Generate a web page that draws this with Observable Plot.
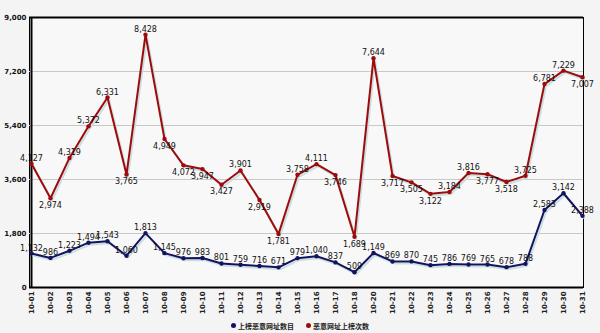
<!DOCTYPE html>
<html>
<head>
<meta charset="utf-8">
<script src="https://cdn.jsdelivr.net/npm/d3@7"></script>
<script src="https://cdn.jsdelivr.net/npm/@observablehq/plot@0.6"></script>
<style>
  html, body { margin: 0; padding: 0; background: #f4f4f4; width: 600px; height: 333px; overflow: hidden; }
  #chart svg { display: block; }
  #legend { height: 15px; display: flex; justify-content: center; align-items: center; gap: 12px;
            font-family: "Noto Sans CJK SC", sans-serif; font-size: 7px; font-weight: bold; color: #222; }
  .item { display: flex; align-items: center; gap: 2px; }
  .dot { width: 5px; height: 5px; border-radius: 50%; display: inline-block; }
</style>
</head>
<body>
<div id="chart"></div>
<div id="legend"></div>
<script>
const dates = ["10-01","10-02","10-03","10-04","10-05","10-06","10-07","10-08","10-09","10-10",
               "10-11","10-12","10-13","10-14","10-15","10-16","10-17","10-18","10-20","10-21",
               "10-22","10-23","10-24","10-25","10-26","10-27","10-28","10-29","10-30","10-31"];
// 恶意网址上榜次数 (red)
const hits = [4127,2974,4319,5372,6331,3765,8428,4949,4072,3947,
              3427,3901,2919,1781,3758,4111,3746,1689,7644,3717,
              3505,3122,3184,3816,3777,3518,3725,6781,7229,7007];
// 上榜恶意网址数目 (blue)
const sites = [1132,986,1223,1494,1543,1060,1813,1145,976,983,
               801,759,716,671,979,1040,837,509,1149,869,
               870,745,786,769,765,678,788,2583,3142,2388];
const yTicks = [0,1800,3600,5400,7200,9000];
const seriesNames = ["上榜恶意网址数目","恶意网址上榜次数"];
const colors = ["#14145e","#9e0b0b"];

const fmt = d3.format(",");
const blue = dates.map((d,i) => ({date:d, value:sites[i]}));
const red = dates.map((d,i) => ({date:d, value:hits[i], above: i===0 || hits[i] >= hits[i-1]}));

const labelFont = {fontSize: 8, fontFamily: "DejaVu Sans, sans-serif", fill: "#111"};

const chart = Plot.plot({
  width: 600,
  height: 318,
  marginLeft: 29,
  marginRight: 17,
  marginTop: 17,
  marginBottom: 31,
  style: {background: "#f4f4f4", fontFamily: "DejaVu Sans, sans-serif"},
  x: {type: "point", domain: dates, padding: 0, label: null},
  y: {domain: [0, 9000], label: null},
  marks: [
    Plot.frame({fill: "#f8f8f8", stroke: "black", strokeWidth: 1}),
    Plot.gridY(yTicks.filter(t => t > 0 && t < 9000), {stroke: "#c8c8c8", strokeOpacity: 1, strokeWidth: 1}),
    Plot.ruleY([yTicks[0]], {stroke: "black", strokeWidth: 2}),
    Plot.ruleY([yTicks[yTicks.length-1]], {stroke: "black", strokeWidth: 2}),
    Plot.ruleX([dates[0]], {stroke: "black", strokeWidth: 2}),
    Plot.axisY({ticks: yTicks, tickFormat: fmt, tickSize: 0, tickPadding: 3, fontSize: 7, fontWeight: "bold", fill: "#111"}),
    Plot.axisX({tickSize: 0, tickRotate: -90, tickPadding: 4, fontSize: 7, fontWeight: "bold", fill: "#222"}),
    // shadows
    Plot.line(blue, {x: "date", y: "value", stroke: "#c9dfe2", strokeWidth: 2, dx: 1.5, dy: 2}),
    Plot.line(red, {x: "date", y: "value", stroke: "#c9dfe2", strokeWidth: 2, dx: 1.5, dy: 2}),
    // lines
    Plot.line(blue, {x: "date", y: "value", stroke: colors[0], strokeWidth: 2}),
    Plot.line(red, {x: "date", y: "value", stroke: colors[1], strokeWidth: 2}),
    Plot.dot(blue, {x: "date", y: "value", r: 2.2, fill: colors[0]}),
    Plot.dot(red, {x: "date", y: "value", r: 2.2, fill: colors[1]}),
    // labels
    Plot.text(blue, {x: "date", y: "value", text: d => fmt(d.value), lineAnchor: "bottom", dy: -3, ...labelFont}),
    Plot.text(red.filter(d => d.above), {x: "date", y: "value", text: d => fmt(d.value), lineAnchor: "bottom", dy: -3, ...labelFont}),
    Plot.text(red.filter(d => !d.above), {x: "date", y: "value", text: d => fmt(d.value), lineAnchor: "top", dy: 4, ...labelFont})
  ]
});
document.getElementById("chart").appendChild(chart);

const legend = document.getElementById("legend");
seriesNames.forEach((name, i) => {
  const item = document.createElement("span");
  item.className = "item";
  const dot = document.createElement("span");
  dot.className = "dot";
  dot.style.background = colors[i];
  item.appendChild(dot);
  item.appendChild(document.createTextNode(name));
  legend.appendChild(item);
});
</script>
</body>
</html>
